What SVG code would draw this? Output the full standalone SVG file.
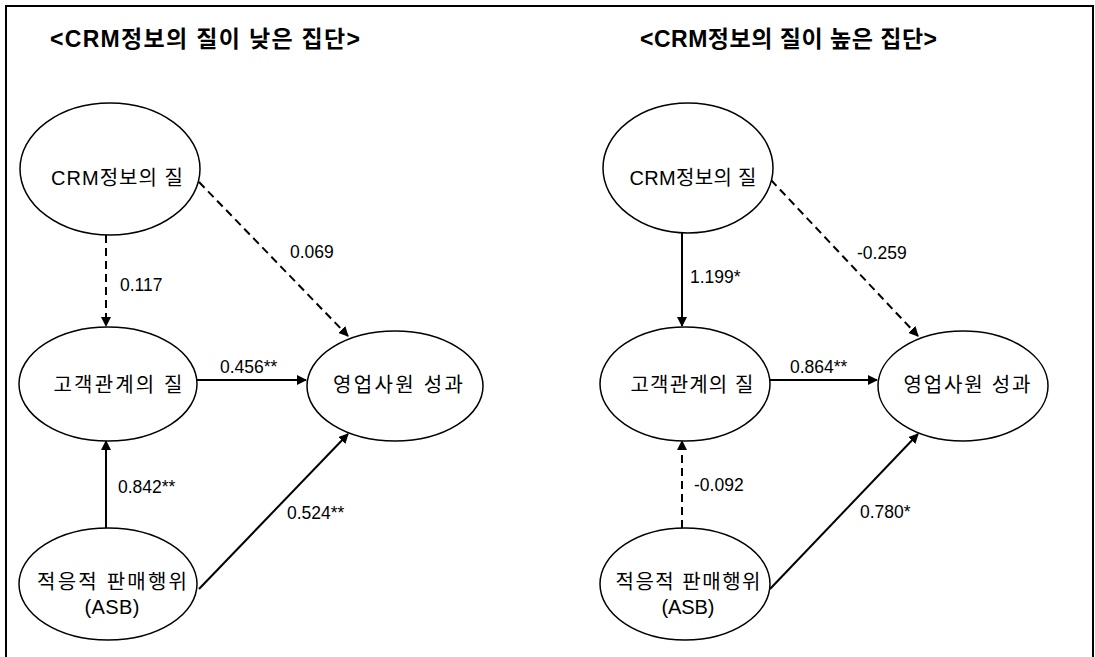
<svg xmlns="http://www.w3.org/2000/svg" width="1095" height="657" viewBox="0 0 1095 657">
<defs>
<style>
.frame{fill:none;stroke:#000;stroke-width:2}
.node ellipse{fill:#fff;stroke:#000;stroke-width:1.5}
.node text{font-family:"Liberation Sans","Noto Sans CJK KR",sans-serif;font-size:20px;fill:#000;text-anchor:middle}
.title{font-family:"Liberation Sans","Noto Sans CJK KR",sans-serif;font-size:23px;font-weight:bold;fill:#000}
.edge{fill:none;stroke:#000;stroke-width:2;marker-end:url(#arr)}
.dash{stroke-dasharray:8 5}
.lbl{font-family:"Liberation Sans","Noto Sans CJK KR",sans-serif;font-size:17.5px;fill:#000}
</style>
<marker id="arr" viewBox="0 0 10 10" refX="9" refY="5" markerWidth="5" markerHeight="5" orient="auto" markerUnits="strokeWidth">
<path d="M0,0 L10,5 L0,10 z" fill="#000"/>
</marker>
</defs>
<rect width="1095" height="657" fill="#fff"/>
<path class="frame" d="M6,657 V6 H1094 M1093,6 V657"/>
<text class="title" x="50" y="47" textLength="310" lengthAdjust="spacing">&lt;CRM정보의 질이 낮은 집단&gt;</text>
<text class="title" x="640" y="47" textLength="297" lengthAdjust="spacing">&lt;CRM정보의 질이 높은 집단&gt;</text>

<g id="connectors">
<line class="edge dash" x1="106" y1="235" x2="106" y2="326"/>
<line class="edge dash" x1="199" y1="182" x2="348" y2="336"/>
<line class="edge" x1="197" y1="380" x2="306" y2="380"/>
<line class="edge" x1="106" y1="528" x2="106" y2="441"/>
<line class="edge" x1="199" y1="589" x2="348" y2="434"/>

<line class="edge" x1="682" y1="233" x2="682" y2="326"/>
<line class="edge dash" x1="771" y1="180" x2="918" y2="336"/>
<line class="edge" x1="770" y1="380" x2="877" y2="380"/>
<line class="edge dash" x1="682" y1="528" x2="682" y2="441"/>
<line class="edge" x1="770" y1="589" x2="918" y2="434"/>
</g>

<g id="labels">
<text class="lbl" x="120" y="291">0.117</text>
<text class="lbl" x="290" y="258">0.069</text>
<text class="lbl" x="220" y="373">0.456**</text>
<text class="lbl" x="118" y="493">0.842**</text>
<text class="lbl" x="287" y="519">0.524**</text>

<text class="lbl" x="690" y="283">1.199*</text>
<text class="lbl" x="857" y="259">-0.259</text>
<text class="lbl" x="790" y="373">0.864**</text>
<text class="lbl" x="694" y="491">-0.092</text>
<text class="lbl" x="860" y="518">0.780*</text>
</g>

<g id="L_crm" class="node"><ellipse cx="110" cy="169" rx="90" ry="66"/><text x="117" y="185" textLength="132" lengthAdjust="spacing">CRM정보의 질</text></g>
<g id="L_rel" class="node"><ellipse cx="108" cy="384" rx="89" ry="57"/><text x="118" y="392" textLength="129" lengthAdjust="spacing">고객관계의 질</text></g>
<g id="L_perf" class="node"><ellipse cx="395" cy="386" rx="88" ry="55"/><text x="398" y="392" textLength="130" lengthAdjust="spacing">영업사원 성과</text></g>
<g id="L_asb" class="node"><ellipse cx="108" cy="584" rx="89" ry="56"/><text x="112" y="589" textLength="150" lengthAdjust="spacing">적응적 판매행위</text><text x="112" y="614" textLength="55" lengthAdjust="spacing">(ASB)</text></g>

<g id="R_crm" class="node"><ellipse cx="688" cy="168" rx="85" ry="65"/><text x="693" y="185" textLength="127" lengthAdjust="spacing">CRM정보의 질</text></g>
<g id="R_rel" class="node"><ellipse cx="685" cy="384" rx="85" ry="57"/><text x="692" y="392" textLength="123" lengthAdjust="spacing">고객관계의 질</text></g>
<g id="R_perf" class="node"><ellipse cx="963" cy="386" rx="85" ry="55"/><text x="967" y="392" textLength="127" lengthAdjust="spacing">영업사원 성과</text></g>
<g id="R_asb" class="node"><ellipse cx="685" cy="584" rx="85" ry="56"/><text x="688" y="589" textLength="145" lengthAdjust="spacing">적응적 판매행위</text><text x="688" y="614" textLength="53" lengthAdjust="spacing">(ASB)</text></g>
</svg>
